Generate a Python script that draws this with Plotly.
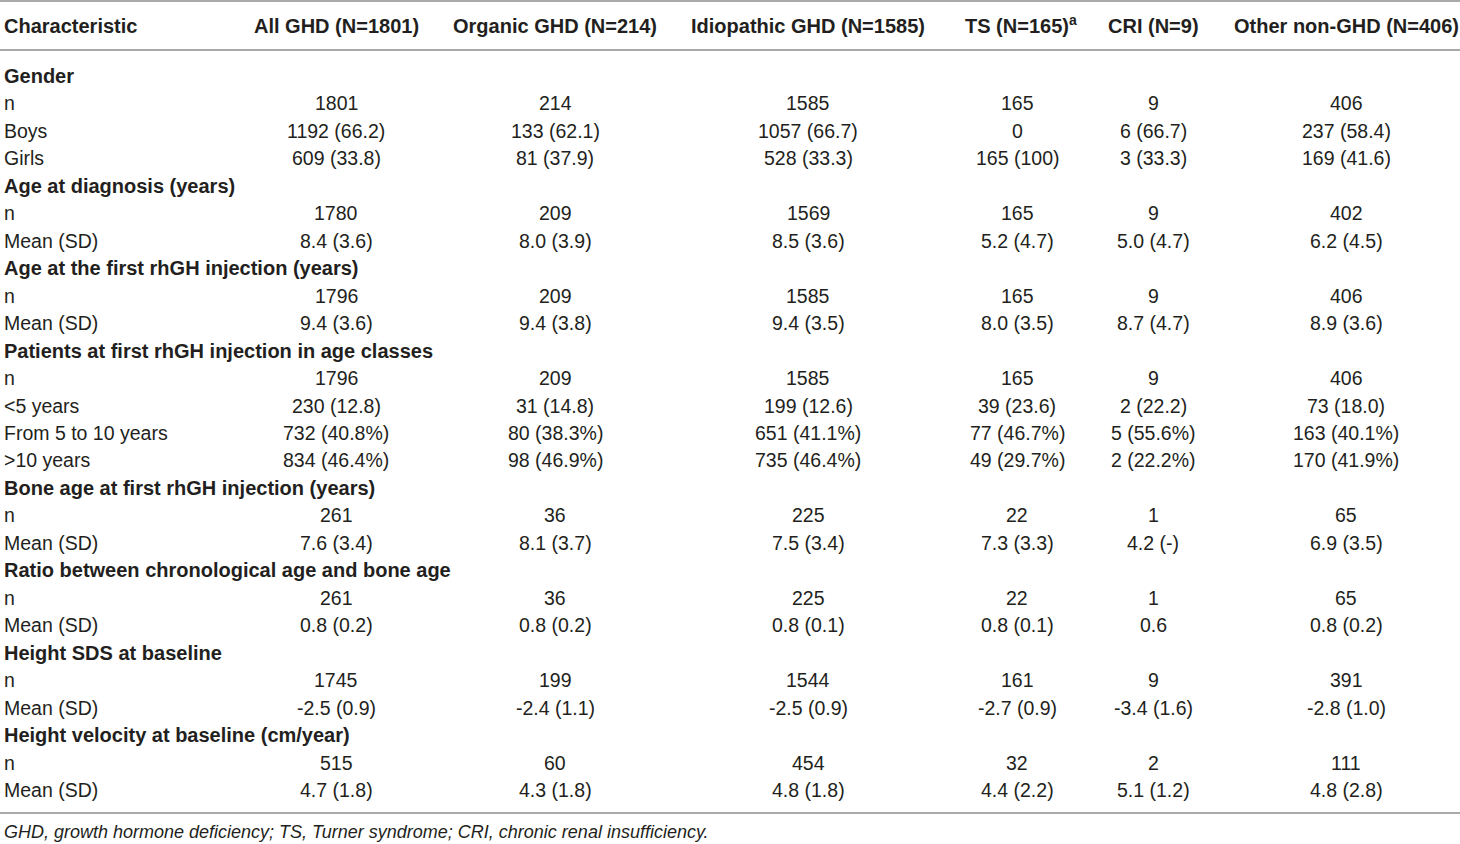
import plotly.graph_objects as go

# ---------------- data ----------------
headers = ["Characteristic", "All GHD (N=1801)", "Organic GHD (N=214)",
           "Idiopathic GHD (N=1585)", "TS (N=165)<sup>a</sup>", "CRI (N=9)",
           "Other non-GHD (N=406)"]

row_labels = [
    "Gender", "n", "Boys", "Girls",
    "Age at diagnosis (years)", "n", "Mean (SD)",
    "Age at the first rhGH injection (years)", "n", "Mean (SD)",
    "Patients at first rhGH injection in age classes", "n", "<5 years",
    "From 5 to 10 years", ">10 years",
    "Bone age at first rhGH injection (years)", "n", "Mean (SD)",
    "Ratio between chronological age and bone age", "n", "Mean (SD)",
    "Height SDS at baseline", "n", "Mean (SD)",
    "Height velocity at baseline (cm/year)", "n", "Mean (SD)",
]
section_rows = [0, 4, 7, 10, 15, 18, 21, 24]

all_ghd = ["", "1801", "1192 (66.2)", "609 (33.8)",
           "", "1780", "8.4 (3.6)",
           "", "1796", "9.4 (3.6)",
           "", "1796", "230 (12.8)", "732 (40.8%)", "834 (46.4%)",
           "", "261", "7.6 (3.4)",
           "", "261", "0.8 (0.2)",
           "", "1745", "-2.5 (0.9)",
           "", "515", "4.7 (1.8)"]
organic_ghd = ["", "214", "133 (62.1)", "81 (37.9)",
               "", "209", "8.0 (3.9)",
               "", "209", "9.4 (3.8)",
               "", "209", "31 (14.8)", "80 (38.3%)", "98 (46.9%)",
               "", "36", "8.1 (3.7)",
               "", "36", "0.8 (0.2)",
               "", "199", "-2.4 (1.1)",
               "", "60", "4.3 (1.8)"]
idiopathic_ghd = ["", "1585", "1057 (66.7)", "528 (33.3)",
                  "", "1569", "8.5 (3.6)",
                  "", "1585", "9.4 (3.5)",
                  "", "1585", "199 (12.6)", "651 (41.1%)", "735 (46.4%)",
                  "", "225", "7.5 (3.4)",
                  "", "225", "0.8 (0.1)",
                  "", "1544", "-2.5 (0.9)",
                  "", "454", "4.8 (1.8)"]
ts = ["", "165", "0", "165 (100)",
      "", "165", "5.2 (4.7)",
      "", "165", "8.0 (3.5)",
      "", "165", "39 (23.6)", "77 (46.7%)", "49 (29.7%)",
      "", "22", "7.3 (3.3)",
      "", "22", "0.8 (0.1)",
      "", "161", "-2.7 (0.9)",
      "", "32", "4.4 (2.2)"]
cri = ["", "9", "6 (66.7)", "3 (33.3)",
       "", "9", "5.0 (4.7)",
       "", "9", "8.7 (4.7)",
       "", "9", "2 (22.2)", "5 (55.6%)", "2 (22.2%)",
       "", "1", "4.2 (-)",
       "", "1", "0.6",
       "", "9", "-3.4 (1.6)",
       "", "2", "5.1 (1.2)"]
other_non_ghd = ["", "406", "237 (58.4)", "169 (41.6)",
                 "", "402", "6.2 (4.5)",
                 "", "406", "8.9 (3.6)",
                 "", "406", "73 (18.0)", "163 (40.1%)", "170 (41.9%)",
                 "", "65", "6.9 (3.5)",
                 "", "65", "0.8 (0.2)",
                 "", "391", "-2.8 (1.0)",
                 "", "111", "4.8 (2.8)"]

footnote = "GHD, growth hormone deficiency; TS, Turner syndrome; CRI, chronic renal insufficiency."

# ---------------- layout constants ----------------
W, H = 1460, 844
col_centers = [336, 555, 808, 1017, 1153, 1346]
label_x = 2
header_y = 26
first_row_y = 76
row_step = 27.46
line_top, line_header, line_bottom = 1, 50, 813
footnote_y = 832
TXT = "#231f20"
FONT = "Liberation Sans"
FS = 19.5
FS_BOLD = 20


def esc(s):
    return s.replace("<", "&lt;").replace(">", "&gt;")


data_cols = [all_ghd, organic_ghd, idiopathic_ghd, ts, cri, other_non_ghd]

fig = go.Figure()
fig.add_trace(go.Scatter(x=[0, W], y=[0, H], mode="markers",
                         marker=dict(opacity=0), hoverinfo="skip",
                         showlegend=False))

bold_font = dict(family=FONT, size=FS_BOLD, color=TXT)
reg_font = dict(family=FONT, size=FS, color=TXT)

ann = []
# header
ann.append(dict(x=label_x, y=header_y, text="<b>" + headers[0] + "</b>",
                xanchor="left", font=bold_font))
for cx, h in zip(col_centers, headers[1:]):
    a = dict(x=cx, y=header_y, text="<b>" + h + "</b>",
             xanchor="center", font=bold_font)
    if "<sup>" in h:
        a["yshift"] = 2
        a["xshift"] = 4
    ann.append(a)

for i, lab in enumerate(row_labels):
    y = first_row_y + row_step * i
    if i in section_rows:
        ann.append(dict(x=label_x, y=y, text="<b>" + esc(lab) + "</b>",
                        xanchor="left", font=bold_font))
    else:
        ann.append(dict(x=label_x, y=y, text=esc(lab), xanchor="left",
                        font=reg_font))
    for cx, col in zip(col_centers, data_cols):
        if col[i]:
            ann.append(dict(x=cx, y=y, text=col[i], xanchor="center",
                            font=reg_font))

ann.append(dict(x=label_x, y=footnote_y, text="<i>" + footnote + "</i>",
                xanchor="left", font=dict(family=FONT, size=18, color=TXT)))

for a in ann:
    a.update(xref="x", yref="y", yanchor="middle", showarrow=False)

shapes = [dict(type="line", xref="x", yref="y", x0=0, x1=W, y0=yy, y1=yy,
               line=dict(color="#8c8c8c", width=1.5))
          for yy in (line_top, line_header, line_bottom)]

fig.update_layout(
    width=W, height=H,
    margin=dict(l=0, r=0, t=0, b=0),
    paper_bgcolor="white", plot_bgcolor="white",
    xaxis=dict(range=[0, W], visible=False, fixedrange=True),
    yaxis=dict(range=[H, 0], visible=False, fixedrange=True),
    annotations=ann, shapes=shapes,
    showlegend=False,
)

fig.write_html("out.html", config={"displayModeBar": False},
               post_script="document.body.style.margin='0';"
                           "document.body.style.overflow='hidden';")
